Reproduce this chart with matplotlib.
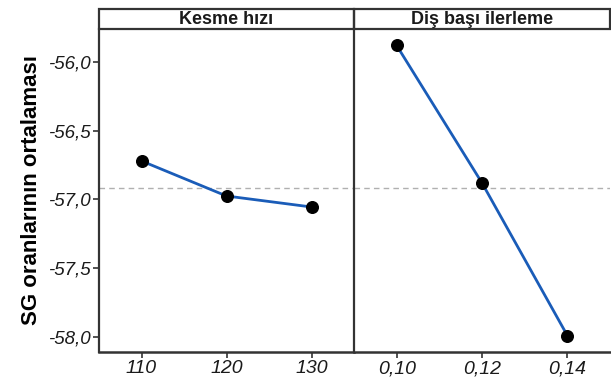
import matplotlib
matplotlib.use("Agg")
import matplotlib.pyplot as plt
from matplotlib.patches import Rectangle

plt.rcParams['font.family'] = ['Liberation Sans', 'DejaVu Sans']

# Factor levels and mean S/N ratios
speed_levels = ["110", "120", "130"]
speed_means = [-56.72, -56.975, -57.055]
feed_levels = ["0,10", "0,12", "0,14"]
feed_means = [-55.88, -56.88, -57.99]
panel_titles = ["Kesme hızı", "Diş başı ilerleme"]
grand_mean = -56.915
y_ticks = [-56.0, -56.5, -57.0, -57.5, -58.0]
y_tick_labels = ["-56,0", "-56,5", "-57,0", "-57,5", "-58,0"]
y_label = "SG oranlarının ortalaması"

W, H = 611, 378
fig = plt.figure(figsize=(W / 100, H / 100), dpi=100)

def frac(x0, y0, x1, y1):
    return [x0 / W, 1 - y1 / H, (x1 - x0) / W, (y1 - y0) / H]

panel_top, panel_bot = 29, 352
strip_top = 9
edges = [(99, 354), (354, 610)]
dark = "#333333"

panels = [(speed_levels, speed_means), (feed_levels, feed_means)]
axes = []
for i, ((x0, x1), (levels, means), title) in enumerate(zip(edges, panels, panel_titles)):
    ax = fig.add_axes(frac(x0, panel_top, x1, panel_bot))
    pos = list(range(1, len(levels) + 1))
    ax.axhline(grand_mean, color="#b0b0b0", lw=1.0, ls=(0, (4, 3)), zorder=1)
    ax.plot(pos, means, color="#1a5cb8", lw=2.0, zorder=2)
    ax.scatter(pos, means, s=70, color="black", zorder=3)
    ax.set_xlim(0.5, len(levels) + 0.5)
    ax.set_ylim(-58.11, -55.76)
    ax.set_xticks(pos)
    ax.set_xticklabels(levels, fontsize=14, style="italic", color="#1a1a1a")
    ax.set_yticks(y_ticks)
    for side in ["top", "right"]:
        ax.spines[side].set_visible(False)
    ax.spines["bottom"].set_linewidth(1.8)
    ax.spines["bottom"].set_color(dark)
    ax.spines["left"].set_linewidth(1.6)
    ax.spines["left"].set_color(dark)
    ax.tick_params(axis="both", direction="out", length=4, width=1.2, color=dark, pad=2)
    if i == 0:
        ax.set_yticklabels(y_tick_labels, fontsize=13.5, style="italic", color="#1a1a1a")
        ax.set_ylabel(y_label, fontsize=16, fontweight="bold", labelpad=4)
    else:
        ax.tick_params(axis="y", left=False, labelleft=False)
    axes.append(ax)

    # strip header
    sax = fig.add_axes(frac(x0, strip_top, x1, panel_top))
    sax.set_xlim(0, 1)
    sax.set_ylim(0, 1)
    sax.axis("off")
    sax.add_patch(Rectangle((0, 0), 1, 1, transform=sax.transAxes, fill=False,
                            ec=dark, lw=1.6, clip_on=False))
    sax.text(0.5, 0.45, title, ha="center", va="center", fontsize=13,
             fontweight="bold", color="#1a1a1a")

fig.savefig("out.png", dpi=100)
